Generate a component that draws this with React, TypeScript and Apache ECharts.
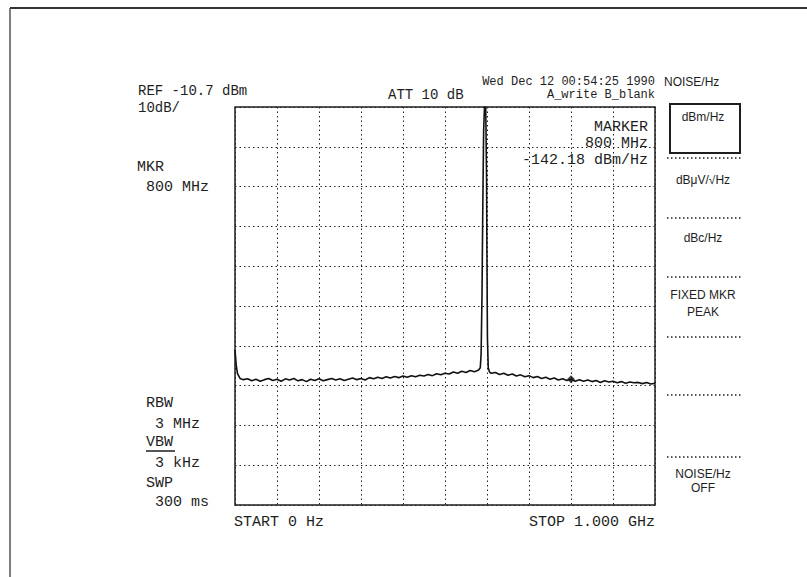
import React, { useEffect, useRef } from "react";
import * as echarts from "echarts";

// Frequency (MHz) and level (dB relative to REF level, 10 dB/div)
const freqMHz = [
  0, 3, 6, 12, 20, 30, 40, 50, 60, 70, 80, 90, 100, 110, 120, 130, 140, 150, 160, 170, 180, 190,
  200, 210, 220, 230, 240, 250, 260, 270, 280, 290, 300, 310, 320, 330, 340, 350, 360, 370, 380,
  390, 400, 410, 420, 430, 440, 450, 460, 470, 480, 490, 500, 510, 520, 530, 540, 550, 560, 570,
  580, 584, 586, 588, 590, 592, 594, 597, 599, 600, 601, 603, 606, 610, 620, 630, 640, 650, 660,
  670, 680, 690, 700, 710, 720, 730, 740, 750, 760, 770, 780, 790, 800, 810, 820, 830, 840, 850,
  860, 870, 880, 890, 900, 910, 920, 930, 940, 950, 960, 970, 980, 990, 1000,
];
const levelDb = [
  -61.0, -65.0, -67.0, -68.2, -68.5, -68.3, -68.8, -68.4, -68.9, -68.5, -68.2, -68.7, -68.4,
  -68.9, -68.3, -68.6, -68.2, -68.8, -68.5, -69.0, -68.4, -68.7, -68.3, -68.8, -68.5, -68.2,
  -68.6, -68.3, -68.7, -68.4, -68.1, -68.5, -68.2, -68.6, -68.0, -68.3, -67.9, -68.2, -67.8,
  -68.1, -67.7, -68.0, -67.6, -67.9, -67.5, -67.8, -67.4, -67.6, -67.2, -67.5, -67.0, -67.3,
  -66.9, -67.1, -66.6, -66.9, -66.4, -66.7, -66.2, -66.5, -66.1, -65.5, -62.0, -48.0, -25.0,
  -6.0, 0, 0, -18.0, -40.0, -58.0, -65.5, -66.6, -66.9, -66.7, -67.2, -66.9, -67.4, -67.1,
  -67.6, -67.3, -67.8, -67.5, -68.0, -67.7, -68.2, -67.9, -68.4, -68.1, -68.6, -68.3, -68.7,
  -68.4, -68.9, -68.5, -68.9, -68.6, -69.0, -68.7, -69.2, -68.8, -69.1, -68.9, -69.3, -69.0,
  -69.4, -69.1, -69.3, -69.2, -69.5, -69.2, -69.6, -69.4,
];
const markerFreq = 800;
const markerLevel = -68.4;

const leftLabels = [
  { text: "REF -10.7 dBm", x: 138, y: 91, size: 14 },
  { text: "10dB/", x: 138, y: 108, size: 14 },
  { text: "MKR", x: 137, y: 167, size: 15 },
  { text: " 800 MHz", x: 137, y: 187, size: 15 },
  { text: "RBW", x: 146, y: 403, size: 15 },
  { text: " 3 MHz", x: 146, y: 424, size: 15 },
  { text: "VBW", x: 146, y: 442, size: 15 },
  { text: " 3 kHz", x: 146, y: 463, size: 15 },
  { text: "SWP", x: 146, y: 483, size: 15 },
  { text: " 300 ms", x: 146, y: 502, size: 15 },
  { text: "START 0 Hz", x: 234, y: 522, size: 15 },
];
const menuLabels = ["dBm/Hz", "dBμV/√Hz", "dBc/Hz", "FIXED MKR", "PEAK", "NOISE/Hz", "OFF"];
const menuLabelY = [117, 180, 238, 295, 312, 474, 488];
const menuSeparatorY = [158, 218, 277, 337, 395, 457];

const MONO = "'Liberation Mono', 'DejaVu Sans Mono', monospace";
const SANS = "'Liberation Sans', 'DejaVu Sans', sans-serif";
const INK = "#1e1e1e";

export default function App() {
  const ref = useRef<HTMLDivElement>(null);
  useEffect(() => {
    if (!ref.current) return;
    const chart = echarts.init(ref.current, undefined, { renderer: "svg" });
    const trace = freqMHz.map((f, i) => [f, levelDb[i]]);

    const graphics: any[] = [];
    // page frame
    graphics.push({ type: "line", shape: { x1: 10, y1: 8, x2: 807, y2: 8 }, style: { stroke: "#333", lineWidth: 2 } });
    graphics.push({ type: "line", shape: { x1: 10, y1: 8, x2: 10, y2: 577 }, style: { stroke: "#555", lineWidth: 1.5 } });

    const monoText = (text: string, x: number, y: number, align = "left", size = 15) => ({
      type: "text",
      x,
      y,
      style: { text, fill: INK, font: `${size}px ${MONO}`, textAlign: align, textVerticalAlign: "middle" },
    });
    leftLabels.forEach((l) => graphics.push(monoText(l.text, l.x, l.y, "left", l.size)));
    graphics.push({ type: "line", shape: { x1: 146, y1: 451, x2: 175, y2: 451 }, style: { stroke: INK, lineWidth: 1.5 } });

    graphics.push(monoText("ATT 10 dB", 388, 95, "left", 14));
    graphics.push(monoText("Wed Dec 12 00:54:25 1990", 655, 82, "right", 12));
    graphics.push(monoText("A_write B_blank", 655, 95, "right", 12));
    graphics.push(monoText("STOP 1.000 GHz", 655, 522, "right"));
    graphics.push(monoText("MARKER", 648, 127, "right"));
    graphics.push(monoText(" 800 MHz", 648, 143, "right"));
    graphics.push(monoText("-142.18 dBm/Hz", 648, 160, "right"));

    // right soft-key menu
    graphics.push({
      type: "text",
      x: 664,
      y: 82,
      style: { text: "NOISE/Hz", fill: INK, font: `12px ${SANS}`, textAlign: "left", textVerticalAlign: "middle" },
    });
    graphics.push({
      type: "rect",
      shape: { x: 670, y: 104, width: 70, height: 49 },
      style: { fill: "none", stroke: INK, lineWidth: 2 },
    });
    menuLabels.forEach((t, i) =>
      graphics.push({
        type: "text",
        x: 703,
        y: menuLabelY[i],
        style: { text: t, fill: INK, font: `12px ${SANS}`, textAlign: "center", textVerticalAlign: "middle" },
      })
    );
    menuSeparatorY.forEach((y) =>
      graphics.push({
        type: "line",
        shape: { x1: 667, y1: y, x2: 742, y2: y },
        style: { stroke: INK, lineWidth: 1.5, lineDash: [1.5, 2.5] },
      })
    );

    chart.setOption({
      animation: false,
      backgroundColor: "#ffffff",
      grid: {
        left: 235,
        top: 107,
        width: 420,
        height: 398,
        show: true,
        borderColor: INK,
        borderWidth: 1.5,
        backgroundColor: "transparent",
      },
      xAxis: {
        type: "value",
        min: 0,
        max: 1000,
        interval: 100,
        axisLine: { show: false },
        axisTick: { show: false },
        axisLabel: { show: false },
        splitLine: { show: true, lineStyle: { color: "#222", width: 1, type: [1.5, 3] } },
      },
      yAxis: {
        type: "value",
        min: -100,
        max: 0,
        interval: 10,
        axisLine: { show: false },
        axisTick: { show: false },
        axisLabel: { show: false },
        splitLine: { show: true, lineStyle: { color: "#222", width: 1, type: [1.5, 3] } },
      },
      series: [
        {
          type: "line",
          data: trace,
          showSymbol: false,
          lineStyle: { color: "#111", width: 1.6 },
          clip: true,
        },
        {
          type: "scatter",
          data: [[markerFreq, markerLevel]],
          symbol: "diamond",
          symbolSize: 8,
          itemStyle: { color: "#111" },
        },
      ],
      graphic: graphics,
    });
    return () => chart.dispose();
  }, []);
  return (
    <div
      ref={ref}
      style={{ position: "fixed", left: 0, top: 0, width: 807, height: 577, background: "#fff" }}
    />
  );
}
